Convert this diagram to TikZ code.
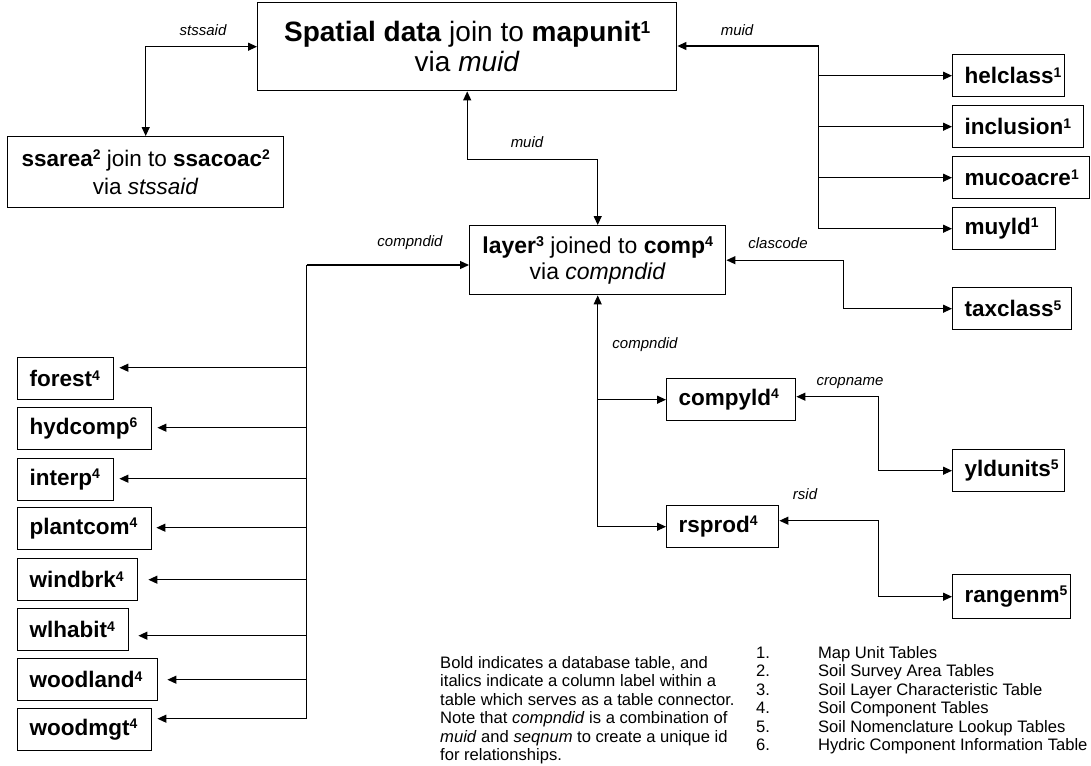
\documentclass[tikz,border=0pt]{standalone}
\usepackage{fontspec}
\setmainfont{Liberation Sans}
\usetikzlibrary{arrows.meta,calc}

% small raised table-group number
\newcommand\grp[1]{\raisebox{0.3em}{\scalebox{0.62}{#1}}}

\tikzset{
  wire/.style={line width=1.2pt, draw=black},
  tip/.style={-{Triangle[length=9pt,width=8pt]}},
  both/.style={{Triangle[length=9pt,width=8pt]}-{Triangle[length=9pt,width=8pt]}},
  tblbox/.style={draw, line width=1.4pt, anchor=north west, minimum height=42pt,
    inner xsep=12pt, inner ysep=0pt, align=left,
    font=\fontsize{22.5}{24}\selectfont\bfseries},
  joinbox/.style={draw, line width=1.4pt, anchor=north west, align=center, inner sep=0pt},
  key/.style={font=\fontsize{15}{17}\selectfont\itshape, inner sep=0pt},
  legend/.style={font=\fontsize{16.6}{18.5}\selectfont, inner sep=0pt, anchor=north west, align=left},
}

\begin{document}
\begin{tikzpicture}[x=1pt,y=-1pt]
\useasboundingbox (0,0) rectangle (1091,765);

% --- join boxes ---
\node[joinbox, minimum width=419pt, minimum height=88pt, font=\fontsize{28}{30}\selectfont]
  (main) at (257,2) {\textbf{Spatial data} join to \textbf{mapunit\grp{1}}\\ via \textit{muid}};
\node[joinbox, minimum width=276pt, minimum height=71pt, font=\fontsize{22.5}{28}\selectfont]
  (ssarea) at (7,136) {\textbf{ssarea\grp{2}} join to \textbf{ssacoac\grp{2}}\\ via \textit{stssaid}};
\node[joinbox, minimum width=256pt, minimum height=69pt, font=\fontsize{23}{26}\selectfont]
  (layer) at (469,225) {\textbf{layer\grp{3}} joined to \textbf{comp\grp{4}}\\ via \textit{compndid}};

% --- map unit tables ---
\node[tblbox, text width=88pt]  (helclass)  at (952,54)  {helclass\grp{1}};
\node[tblbox, text width=107pt] (inclusion) at (952,105) {inclusion\grp{1}};
\node[tblbox, text width=113pt] (mucoacre)  at (952,156) {mucoacre\grp{1}};
\node[tblbox, text width=79pt]  (muyld)     at (952,207) {muyld\grp{1}};

% --- lookup and component tables on the right ---
\node[tblbox, text width=95pt]  (taxclass) at (952,287) {taxclass\grp{5}};
\node[tblbox, text width=105pt] (compyld)  at (666,378) {compyld\grp{4}};
\node[tblbox, text width=88pt]  (yldunits) at (952,449) {yldunits\grp{5}};
\node[tblbox, text width=88pt]  (rsprod)   at (666,505) {rsprod\grp{4}};
\node[tblbox, text width=94pt, minimum height=44pt] (rangenm) at (952,574) {rangenm\grp{5}};

% --- component tables on the left ---
\node[tblbox, text width=72pt]  (forest)   at (17,357) {forest\grp{4}};
\node[tblbox, text width=110pt] (hydcomp)  at (17,407) {hydcomp\grp{6}};
\node[tblbox, text width=72pt]  (interp)   at (17,458) {interp\grp{4}};
\node[tblbox, text width=110pt] (plantcom) at (17,507) {plantcom\grp{4}};
\node[tblbox, text width=96pt]  (windbrk)  at (17,558) {windbrk\grp{4}};
\node[tblbox, text width=87pt]  (wlhabit)  at (17,608) {wlhabit\grp{4}};
\node[tblbox, text width=116pt] (woodland) at (17,658) {woodland\grp{4}};
\node[tblbox, text width=110pt] (woodmgt)  at (17,708) {woodmgt\grp{4}};

% --- spatial data to survey area ---
\draw[wire, both] (main.west) -| (ssarea.north);
\node[key] (kstssaid) at (203,30) {stssaid};

% --- spatial data to layer ---
\draw[wire, both] (main.south) -- ++(0,68) -| (layer.north);
\node[key] (kmuid2) at (527,142) {muid};

% --- map unit bus ---
\coordinate (rbus) at (818.5,46);
\draw[wire, tip] (rbus) -- (rbus -| main.east);
\draw[wire] (rbus) -- (rbus |- muyld);
\foreach \t in {helclass,inclusion,mucoacre,muyld}
  \draw[wire, tip] (rbus |- \t) -- (\t.west);
\node[key] (kmuid1) at (737,30) {muid};

% --- component bus on the left ---
\coordinate (lbus) at (306.5,265);
\coordinate (forest-in)   at ($(forest.east)+(5,-11)$);
\coordinate (hydcomp-in)  at ($(hydcomp.east)+(5,-1)$);
\coordinate (interp-in)   at ($(interp.east)+(5,-1)$);
\coordinate (plantcom-in) at ($(plantcom.east)+(4,-1)$);
\coordinate (windbrk-in)  at ($(windbrk.east)+(10,0)$);
\coordinate (wlhabit-in)  at ($(wlhabit.east)+(9,6)$);
\coordinate (woodland-in) at ($(woodland.east)+(9,0)$);
\coordinate (woodmgt-in)  at ($(woodmgt.east)+(5,-11)$);
\draw[wire, tip] (lbus) -- (lbus -| layer.west);
\draw[wire] (lbus) -- (lbus |- woodmgt-in);
\foreach \t in {forest,hydcomp,interp,plantcom,windbrk,wlhabit,woodland,woodmgt}
  \draw[wire, tip] (lbus |- \t-in) -- (\t-in);
\node[key] (kcompndid1) at (410,243) {compndid};

% --- taxonomy lookup ---
\draw[wire, both] (layer.east) -- ++(117,0) |- (taxclass.west);
\node[key] (kclascode) at (778,243) {clascode};

% --- component bus below the layer box ---
\draw[wire, tip] (layer.south |- rsprod.west) -- (layer.south);
\draw[wire, tip] (layer.south |- compyld.west) -- (compyld.west);
\draw[wire, tip] (layer.south |- rsprod.west) -- (rsprod.west);
\node[key] (kcompndid2) at (645,345) {compndid};

% --- yield units ---
\draw[wire, both] ($(compyld.east)+(0,-3)$) -- ++(82,0) |- (yldunits.west);
\node[key] (kcropname) at (850,383) {cropname};

% --- range names ---
\draw[wire, both] ($(rsprod.east)+(0,-6)$) -- ++(99,0) |- (rangenm.west);
\node[key] (krsid) at (805,494) {rsid};

% --- notes ---
\node[legend] (note) at (440,656) {Bold indicates a database table, and\\
italics indicate a column label within a\\
table which serves as a table connector.\\
Note that \textit{compndid} is a combination of\\
\textit{muid} and \textit{seqnum} to create a unique id\\
for relationships.};
\node[legend] (groups) at (756,645) {\begin{tabular}{@{}l@{\hspace{48pt}}l@{}}
1. & Map Unit Tables\\
2. & Soil Survey Area Tables\\
3. & Soil Layer Characteristic Table\\
4. & Soil Component Tables\\
5. & Soil Nomenclature Lookup Tables\\
6. & Hydric Component Information Table
\end{tabular}};
\end{tikzpicture}
\end{document}
